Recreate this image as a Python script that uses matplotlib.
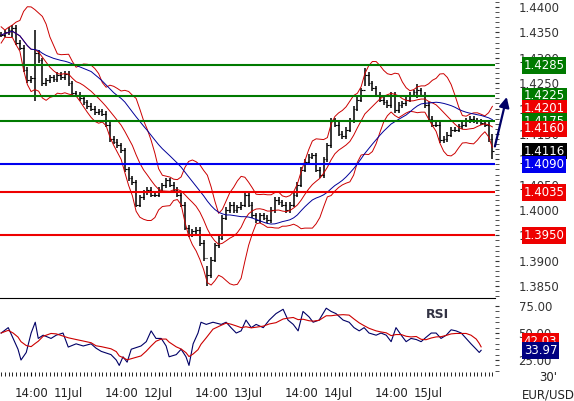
import numpy as np
import pandas as pd
import matplotlib
matplotlib.use("Agg")
import matplotlib.pyplot as plt
from matplotlib.transforms import blended_transform_factory

# hourly closes, EUR/USD, starting 10 Jul 06:00
closes = [1.4345, 1.4350, 1.4355, 1.4359, 1.4330, 1.4320, 1.4276, 1.4256, 1.4260, 1.4310,
          1.4295, 1.4250, 1.4256, 1.4262, 1.4258, 1.4266, 1.4262, 1.4268, 1.4250, 1.4230,
          1.4227, 1.4220, 1.4212, 1.4205, 1.4200, 1.4193, 1.4195, 1.4190, 1.4168, 1.4140,
          1.4135, 1.4128, 1.4118, 1.4080, 1.4063, 1.4055, 1.4010, 1.4025, 1.4035, 1.4040,
          1.4030, 1.4030, 1.4040, 1.4049, 1.4059, 1.4050, 1.4040, 1.4030, 1.4010, 1.3965,
          1.3951, 1.3958, 1.3961, 1.3935, 1.3905, 1.3872, 1.3902, 1.3931, 1.3945, 1.3985,
          1.4000, 1.4010, 1.4000, 1.4005, 1.4010, 1.4030, 1.4010, 1.3990, 1.3980, 1.3990,
          1.3985, 1.3980, 1.4000, 1.4020, 1.4015, 1.4010, 1.4000, 1.4010, 1.4030, 1.4050,
          1.4079, 1.4095, 1.4105, 1.4108, 1.4079, 1.4069, 1.4100, 1.4128, 1.4177, 1.4168,
          1.4150, 1.4145, 1.4158, 1.4177, 1.4200, 1.4217, 1.4236, 1.4266, 1.4250, 1.4240,
          1.4227, 1.4217, 1.4212, 1.4207, 1.4227, 1.4197, 1.4207, 1.4210, 1.4217, 1.4227,
          1.4232, 1.4236, 1.4227, 1.4207, 1.4180, 1.4168, 1.4168, 1.4138, 1.4140, 1.4148,
          1.4158, 1.4158, 1.4165, 1.4168, 1.4177, 1.4180, 1.4177, 1.4175, 1.4172, 1.4168,
          1.4140, 1.4116]
# a few bars with long wicks: index -> (high, low)
wicks = {9: (1.4355, 1.4215), 3: (1.4365, 1.4340), 55: (1.3890, 1.3850),
         97: (1.4280, 1.4245), 111: (1.4248, 1.4220), 131: (1.4150, 1.4100)}

# RSI readings (position in hourly bars, value)
rsi_x = [0, 1.9, 3.2, 4.5, 5.3, 6.7, 8, 9.1, 9.9, 11.2, 13.3, 14.7, 16.5, 17.9, 20, 21.9,
         24, 25.3, 26.7, 29.3, 30.7, 31.5, 32.5, 33.6, 34.7, 37.3, 38.7, 40, 41.3, 42.7,
         44, 44.8, 46.7, 48, 49.3, 50.1, 51.2, 52.5, 53.3, 54.7, 56.5, 58.7, 60, 61.3,
         62.7, 64, 65.3, 66.7, 68, 69.9, 71.5, 73.3, 75.2, 76.5, 77.9, 79.2, 80.5, 82.1,
         83.2, 84.8, 86.7, 88, 89.3, 91.2, 92.8, 94.1, 95.5, 96.8, 98.1, 100, 101.3, 102.7,
         104, 105.3, 106.7, 108, 109.3, 110.7, 112, 113.3, 114.7, 116, 117.3, 118.7, 120,
         121.3, 122.7, 124, 125.3, 126.7, 127.5, 128]
rsi_vals = [50, 55, 45, 35, 25, 32, 50, 60, 45, 48, 45, 48, 50, 37, 40, 38, 40, 36, 33,
            30, 25, 20, 28, 23, 35, 38, 42, 52, 45, 45, 38, 28, 30, 35, 28, 20, 40, 50,
            60, 58, 60, 58, 60, 55, 50, 52, 62, 55, 58, 55, 62, 68, 72, 62, 58, 52, 70,
            65, 60, 62, 73, 70, 68, 62, 60, 55, 52, 55, 50, 48, 50, 48, 42, 55, 48, 42,
            45, 44, 42, 46, 50, 50, 45, 48, 53, 52, 50, 45, 40, 35, 32, 34]

levels = [1.4285, 1.4225, 1.4175, 1.4090, 1.4035, 1.3950]
level_colors = ["#007a00", "#007a00", "#007a00", "#0000ee", "#ee0000", "#ee0000"]
tags = [1.4285, 1.4225, 1.4201, 1.4175, 1.4160, 1.4116, 1.4090, 1.4035, 1.3950]
tag_colors = ["#007a00", "#007a00", "#ee0000", "#007a00", "#ee0000", "#000000",
              "#0000ee", "#ee0000", "#ee0000"]
tick_pos = [8, 18, 32, 42, 56, 66, 80, 90, 104, 114]
tick_labels = ["14:00", "11Jul", "14:00", "12Jul", "14:00", "13Jul",
               "14:00", "14Jul", "14:00", "15Jul"]

c = pd.Series(closes)
opens = c.shift(1).fillna(c.iloc[0])
mid = c.rolling(10, min_periods=1).mean()
sd = c.rolling(10, min_periods=1).std().fillna(0.0008)
upper, lower = mid + 2 * sd, mid - 2 * sd
slow = c.rolling(25, min_periods=1).mean()

rsi = pd.Series(rsi_vals)
rsi_ma = rsi.rolling(5, min_periods=1).mean()

fig = plt.figure(figsize=(5.74, 4.01), dpi=100)
W = 495 / 574
ax = fig.add_axes([0, 1 - 298 / 401, W, 298 / 401])
ax2 = fig.add_axes([0, 1 - 372 / 401, W, 72 / 401])

x = np.arange(len(closes))
for i in x:
    hi = max(opens[i], c[i]) + 0.0005
    lo = min(opens[i], c[i]) - 0.0005
    if i in wicks:
        hi, lo = wicks[i]
    ax.vlines(i, lo, hi, color="black", lw=1.1)
    ax.hlines(opens[i], i - 0.45, i, color="black", lw=0.8)
    ax.hlines(c[i], i, i + 0.45, color="black", lw=0.8)

ax.plot(x, upper, color="#cc0000", lw=0.7)
ax.plot(x, lower, color="#cc0000", lw=0.7)
ax.plot(x, mid, color="#cc0000", lw=0.7)
ax.plot(x, slow, color="#000099", lw=0.7)

for lv, col in zip(levels, level_colors):
    ax.axhline(lv, color=col, lw=1.5)

ax.annotate("", xy=(135, 1.4228), xytext=(131.5, 1.4120),
            arrowprops=dict(arrowstyle="-|>", color="#000066", lw=1.6, mutation_scale=15),
            annotation_clip=False)

ax.set_xlim(-0.3, 131.7)
ax.set_ylim(1.38267, 1.44138)
ax.yaxis.tick_right()
ax.set_yticks(np.arange(1.385, 1.4401, 0.005))
ax.set_yticklabels([f"{v:.4f}" for v in np.arange(1.385, 1.4401, 0.005)],
                   fontsize=8.5, color="#333333")
ax.set_yticks(np.arange(1.383, 1.441, 0.001), minor=True)
ax.tick_params(axis="y", which="both", length=3, direction="out", pad=14, color="#333333")
ax.set_xticks([])
for s in ["top", "left", "right"]:
    ax.spines[s].set_visible(False)
ax.spines["bottom"].set_color("black")

tr = blended_transform_factory(ax.transAxes, ax.transData)
for v, col in zip(tags, tag_colors):
    ax.text(1.058, v, f"{v:.4f}", transform=tr, fontsize=8.5, color="white",
            va="center", ha="left", zorder=10,
            bbox=dict(boxstyle="square,pad=0.15", fc=col, ec="none"))

ax2.plot(rsi_x, rsi, color="#000066", lw=0.8)
ax2.plot(rsi_x, rsi_ma, color="#cc0000", lw=0.8)
ax2.set_xlim(-0.3, 131.7)
ax2.set_ylim(13.9, 80.6)
ax2.yaxis.tick_right()
ax2.set_yticks([25, 50, 75])
ax2.set_yticklabels(["25.00", "50.00", "75.00"], fontsize=8.5, color="#333333")
ax2.set_yticks(np.arange(15, 80, 5), minor=True)
ax2.tick_params(axis="y", which="both", length=3, pad=14, color="#333333")
ax2.set_xticks(tick_pos)
ax2.set_xticklabels(tick_labels, fontsize=8.5, color="#222222")
ax2.set_xticks(x, minor=True)
ax2.tick_params(axis="x", which="both", length=3, pad=8)
for s in ["top", "left", "right", "bottom"]:
    ax2.spines[s].set_visible(False)
ax2.text(0.86, 0.75, "RSI", transform=ax2.transAxes, fontsize=9,
         fontweight="bold", color="#333344")
tr2 = blended_transform_factory(ax2.transAxes, ax2.transData)
ax2.text(1.058, 42.03, "42.03", transform=tr2, fontsize=8.5, color="white", va="center",
         bbox=dict(boxstyle="square,pad=0.15", fc="#ee0000", ec="none"))
ax2.text(1.058, 33.97, "33.97", transform=tr2, fontsize=8.5, color="white", va="center",
         bbox=dict(boxstyle="square,pad=0.15", fc="#000080", ec="none"))

fig.text(0.955, 0.05, "30'", fontsize=8.5, ha="center", color="#222222")
fig.text(0.955, 0.005, "EUR/USD", fontsize=8.5, ha="center", color="#222222")

fig.savefig("out.png", dpi=100)
